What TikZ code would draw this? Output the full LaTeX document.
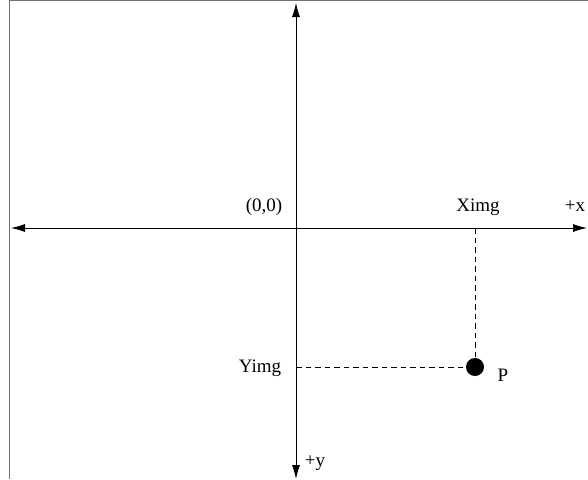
\documentclass[tikz,border=0pt]{standalone}
\usepackage{fontspec}
\setmainfont{Liberation Serif}
\usetikzlibrary{arrows.meta}
\tikzset{
  axis/.style={arrows={Latex[length=14pt,width=8pt]-Latex[length=14pt,width=8pt]}, line width=0.8pt},
  guide/.style={line width=0.7pt, dash pattern=on 5.5pt off 4pt},
  lbl/.style={font=\fontsize{19}{22}\selectfont, inner sep=0pt, anchor=base},
  dot/.style={circle, fill=black, minimum size=18pt, inner sep=0pt},
  frame/.style={draw=black!55, line width=0.8pt}
}

\begin{document}
\begin{tikzpicture}[x=1pt,y=-1pt]
  \useasboundingbox (0,0) rectangle (588,479);
  \draw[frame] (588,0.5) -- (9.5,0.5) -- (9.5,479);

  % axes
  \coordinate (xl) at (11,228);
  \coordinate (xr) at (587,228);
  \coordinate (yt) at (296,3);
  \coordinate (yb) at (296,479);
  \draw[axis] (xl) -- (xr);
  \draw[axis] (yt) -- (yb);

  % point and its projections
  \node[dot] (P) at (475,367) {};
  \coordinate (ximg) at (475,228);
  \coordinate (yimg) at (296,367);
  \draw[guide] (ximg) -- (P);
  \draw[guide] (yimg) -- (P);

  \node[lbl] (orig) at (264,211) {(0,0)};
  \node[lbl] (xlbl) at (478,211) {Ximg};
  \node[lbl] (xdir) at (575,211) {+x};
  \node[lbl] (ylbl) at (260,372) {Yimg};
  \node[lbl] (plbl) at (503,381) {P};
  \node[lbl] (ydir) at (315,466) {+y};
\end{tikzpicture}
\end{document}
